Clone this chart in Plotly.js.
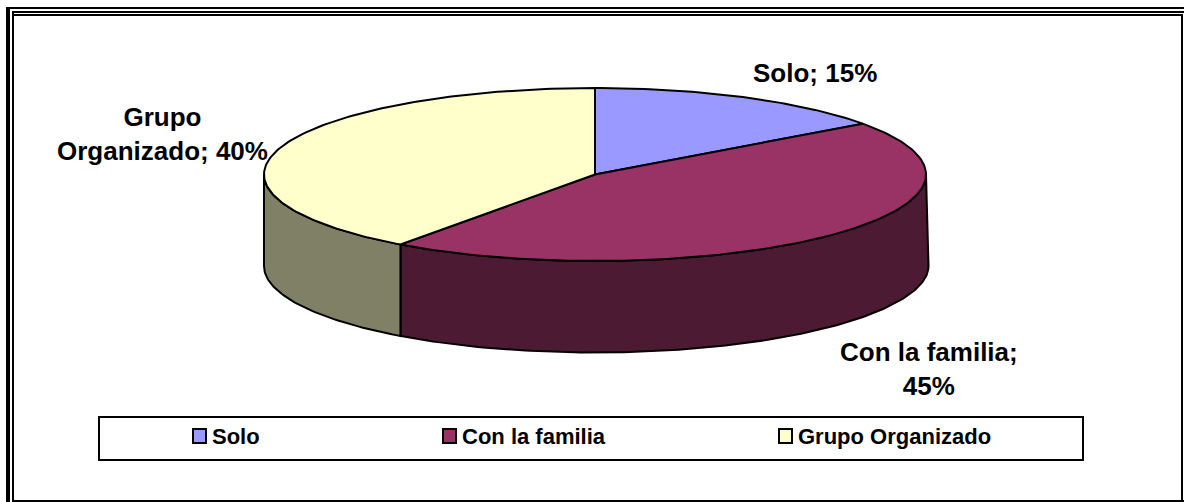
<!DOCTYPE html>
<html><head><meta charset="utf-8">
<script src="https://cdn.plot.ly/plotly-3.0.1.min.js"></script>
<style>html,body{margin:0;padding:0;background:#fff}#c{width:1184px;height:502px}</style>
</head><body><div id="c"></div>
<script>
const categories = ['Solo', 'Con la familia', 'Grupo Organizado'];
const shares = [15, 45, 40];
const topColors = ['#9999FF', '#993366', '#FFFFCC'];
const sideColors = ['#4C4C80', '#4D1A33', '#808066'];
const labelLines = [['Solo; 15%'], ['Con la familia;', '45%'], ['Grupo', 'Organizado; 40%']];

// Pie projection, in pixel-scale axis units
const cx = 595, cy = 174.5, rx = 331, ry = 86.5, depth = 91.5;
const px = (a, d) => cx + rx * Math.sin(a) + (d ? 2.5 * Math.pow(Math.max(0, Math.sin(a)), 8) : 0);
const py = (a, d) => cy - ry * Math.cos(a) + (d || 0);
const total = shares.reduce((s, v) => s + v, 0);
const line = {color: '#000', width: 2};
const traces = [];

function arc(a0, a1, d) {
  const n = Math.max(2, Math.ceil(Math.abs(a1 - a0) * 60));
  const xs = [], ys = [];
  for (let i = 0; i <= n; i++) {
    const a = a0 + (a1 - a0) * i / n;
    xs.push(px(a, d)); ys.push(py(a, d));
  }
  return [xs, ys];
}
function poly(xs, ys, fill) {
  traces.push({type: 'scatter', mode: 'lines', x: xs, y: ys, fill: 'toself', fillcolor: fill,
    line, hoverinfo: 'skip', showlegend: false, cliponaxis: false});
}

let acc = 0;
const bounds = shares.map(v => { const a0 = acc / total * 2 * Math.PI; acc += v; return [a0, acc / total * 2 * Math.PI]; });

// Visible side walls: the front half of the rim, from the right extreme to the left extreme
bounds.forEach(([a0, a1], i) => {
  const s = Math.max(a0, Math.PI / 2), e = Math.min(a1, 3 * Math.PI / 2);
  if (e <= s) return;
  const [tx, ty] = arc(s, e, 0), [bx, by] = arc(e, s, depth);
  poly(tx.concat(bx, [tx[0]]), ty.concat(by, [ty[0]]), sideColors[i]);
});
// Top faces
bounds.forEach(([a0, a1], i) => {
  const [tx, ty] = arc(a0, a1, 0);
  poly([cx].concat(tx, [cx]), [cy].concat(ty, [cy]), topColors[i]);
});

const font = (size) => ({family: 'Liberation Sans, Arial, sans-serif', size, color: '#000'});
const labelPos = [[814.5, 72.5], [929, 369], [162, 133.5]];
const annotations = labelLines.map((ls, i) => ({
  x: labelPos[i][0], y: labelPos[i][1], xref: 'x', yref: 'y', showarrow: false,
  text: '<b>' + ls.join('<br>') + '</b>', align: 'center', xanchor: 'center', yanchor: 'middle',
  font: font(26)
}));

// Legend
const swatchX = [192, 442, 778], legendTextX = [209.5, 459.5, 795.5];
categories.forEach((c, i) => annotations.push({
  x: legendTextX[i], y: 436, xref: 'x', yref: 'y', showarrow: false, text: '<b>' + c + '</b>',
  xanchor: 'left', yanchor: 'middle', font: font(22)
}));

const rect = (x0, y0, x1, y1, w, fill, layer) => ({type: 'rect', xref: 'x', yref: 'y', x0, y0, x1, y1,
  line: {color: '#000', width: w}, fillcolor: fill || 'rgba(0,0,0,0)', layer: layer || 'above'});
const bar = (x0, y0, x1, y1) => rect(x0, y0, x1, y1, 0, '#000');
const shapes = [
  bar(6, 7, 10, 502),
  bar(12, 11, 14, 502),
  bar(6, 7, 1184, 9),
  bar(12, 11, 1184, 13),
  bar(12, 14, 1183, 16),
  bar(1181, 14, 1183, 502),
  bar(12, 500, 1184, 502),
  rect(99, 417, 1083, 460, 2, '#fff', 'below')
];
categories.forEach((c, i) => shapes.push(rect(swatchX[i] + 1, 429, swatchX[i] + 14, 443, 2, topColors[i])));

Plotly.newPlot('c', traces, {
  width: 1184, height: 502, margin: {l: 0, r: 0, t: 0, b: 0},
  paper_bgcolor: '#fff', plot_bgcolor: '#fff', showlegend: false,
  xaxis: {range: [0, 1184], visible: false, fixedrange: true},
  yaxis: {range: [502, 0], visible: false, fixedrange: true},
  annotations, shapes
}, {displayModeBar: false, staticPlot: true});
</script></body></html>
